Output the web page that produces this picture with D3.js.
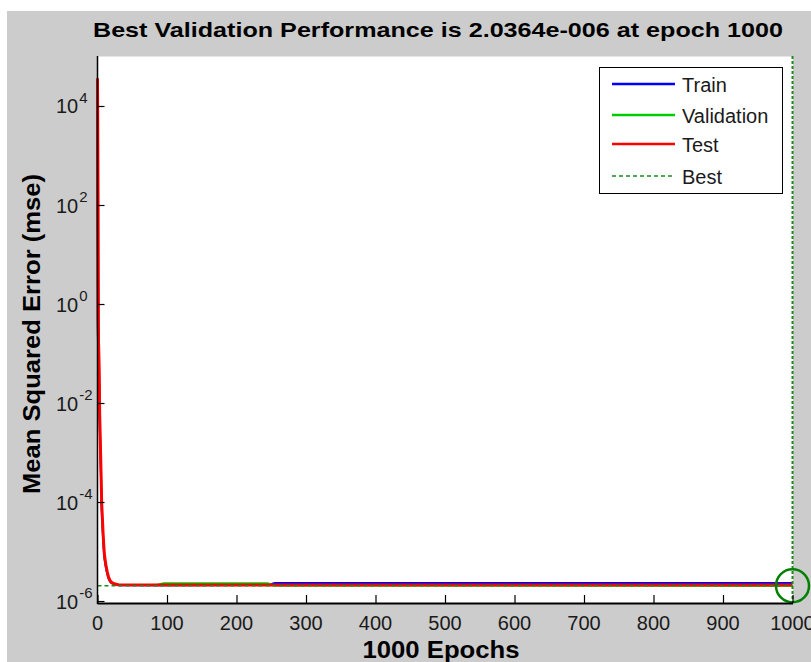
<!DOCTYPE html>
<html>
<head>
<meta charset="utf-8">
<script src="https://cdn.jsdelivr.net/npm/d3@7"></script>
<style>
  html, body { margin: 0; padding: 0; background: #ffffff; }
  svg { display: block; }
</style>
</head>
<body>
<svg id="chart" width="811" height="662"></svg>
<script>
// Training record: mean squared error per epoch (log scale)
const epochs    = [0, 1, 2, 3, 4, 5, 6, 7, 8, 9, 10, 12, 14, 16, 18, 20, 25, 30, 85, 95, 245, 255, 1000];
const trainPerf = [2.2e4, 0.30, 0.040, 5.0e-3, 1.3e-3, 3.2e-4, 7.0e-5, 3.6e-5, 1.9e-5, 1.1e-5, 7.2e-6, 4.8e-6, 3.5e-6, 2.8e-6, 2.45e-6, 2.3e-6, 2.17e-6, 2.08e-6, 2.08e-6, 2.08e-6, 2.1e-6, 2.3e-6, 2.3e-6];
const valPerf   = [3.0e4, 0.38, 0.050, 6.5e-3, 1.6e-3, 4.0e-4, 8.5e-5, 4.3e-5, 2.2e-5, 1.25e-5, 8.0e-6, 5.1e-6, 3.7e-6, 2.9e-6, 2.5e-6, 2.35e-6, 2.18e-6, 2.1e-6, 2.1e-6, 2.28e-6, 2.28e-6, 2.06e-6, 2.0364e-6];
const testPerf  = [3.6e4, 0.43, 0.056, 7.2e-3, 1.8e-3, 4.5e-4, 9.5e-5, 4.8e-5, 2.4e-5, 1.35e-5, 8.5e-6, 5.4e-6, 3.9e-6, 3.0e-6, 2.6e-6, 2.4e-6, 2.2e-6, 2.13e-6, 2.1e-6, 2.1e-6, 2.1e-6, 2.1e-6, 2.1e-6];

const bestEpoch = 1000;
const bestPerf  = 2.0364e-6;

const xTicks = [0, 100, 200, 300, 400, 500, 600, 700, 800, 900, 1000];
const yTickExps = [-6, -4, -2, 0, 2, 4];

const seriesNames  = ["Train", "Validation", "Test", "Best"];
const seriesColors = ["#0000ff", "#00cc00", "#ff0000", "#1a8a1a"];

const titleText  = "Best Validation Performance is 2.0364e-006 at epoch 1000";
const xLabelText = "1000 Epochs";
const yLabelText = "Mean Squared Error  (mse)";

// ---- layout ----
const W = 811, H = 662;
const plot = { left: 97.5, right: 792.5, top: 56, bottom: 603 };

const svg = d3.select("#chart");

// figure background
svg.append("rect").attr("x", 0).attr("y", 0).attr("width", W).attr("height", H).attr("fill", "#ffffff");
svg.append("rect").attr("x", 7).attr("y", 11).attr("width", W - 7).attr("height", H - 11).attr("fill", "#cccccc");

// axes background
svg.append("rect")
  .attr("x", plot.left).attr("y", plot.top)
  .attr("width", plot.right - plot.left + 0.5).attr("height", plot.bottom - plot.top)
  .attr("fill", "#ffffff");
svg.append("line")
  .attr("x1", plot.left).attr("x2", plot.right + 0.5)
  .attr("y1", plot.top + 0.5).attr("y2", plot.top + 0.5)
  .attr("stroke", "#e6e6e6").attr("stroke-width", 1);

const x = d3.scaleLinear().domain([0, 1000]).range([plot.left, plot.right]);
const y = d3.scaleLog().domain([Math.pow(10, -6.04), Math.pow(10, 5.01)]).range([plot.bottom, plot.top]);

// clip for the data lines
svg.append("defs").append("clipPath").attr("id", "plotClip")
  .append("rect")
  .attr("x", plot.left - 2).attr("y", plot.top)
  .attr("width", plot.right - plot.left + 4).attr("height", plot.bottom - plot.top);

const g = svg.append("g").attr("clip-path", "url(#plotClip)");

const line = d3.line().x(d => x(d[0])).y(d => y(d[1]));

const series = [
  { values: trainPerf, color: seriesColors[0], width: 2 },
  { values: valPerf,   color: seriesColors[1], width: 2 },
  { values: testPerf,  color: seriesColors[2], width: 3 }
];

series.forEach(s => {
  g.append("path")
    .datum(epochs.map((e, i) => [e, s.values[i]]))
    .attr("fill", "none")
    .attr("stroke", s.color)
    .attr("stroke-width", s.width)
    .attr("stroke-linejoin", "miter")
    .attr("d", line);
});

// best-epoch markers
g.append("line")
  .attr("x1", x(0)).attr("x2", x(1000))
  .attr("y1", y(bestPerf)).attr("y2", y(bestPerf))
  .attr("stroke", seriesColors[3]).attr("stroke-width", 1.5)
  .attr("stroke-dasharray", "4,3");
svg.append("line")
  .attr("x1", x(bestEpoch)).attr("x2", x(bestEpoch))
  .attr("y1", plot.top).attr("y2", plot.bottom)
  .attr("stroke", seriesColors[3]).attr("stroke-width", 2)
  .attr("stroke-dasharray", "3,2");
svg.append("circle")
  .attr("cx", x(bestEpoch)).attr("cy", y(bestPerf)).attr("r", 16.5)
  .attr("fill", "none").attr("stroke", "#008000").attr("stroke-width", 2.5);

// axes
const xAxis = d3.axisBottom(x).tickValues(xTicks).tickSize(-8).tickFormat("");
svg.append("g").attr("transform", `translate(0,${plot.bottom})`).call(xAxis)
  .call(a => a.select(".domain").attr("d", `M${plot.left},0.5H${plot.right + 0.5}`).attr("stroke", "#000").attr("stroke-width", 2))
  .call(a => a.selectAll(".tick line").attr("stroke", "#000").attr("stroke-width", 1.2));

const yAxis = d3.axisLeft(y).tickValues(yTickExps.map(e => Math.pow(10, e))).tickSize(-7).tickFormat("");
svg.append("g").attr("transform", `translate(${plot.left},0)`).call(yAxis)
  .call(a => a.select(".domain").attr("d", `M0,${plot.top}V${plot.bottom + 1}`).attr("stroke", "#000").attr("stroke-width", 1.5))
  .call(a => a.selectAll(".tick line").attr("stroke", "#000").attr("stroke-width", 1.2));

// the test curve hugs the y axis in its first epochs, so it stays on top of it
g.append("path")
  .datum(epochs.slice(0, 4).map((e, i) => [e, testPerf[i]]))
  .attr("fill", "none").attr("stroke", seriesColors[2]).attr("stroke-width", 3)
  .attr("d", line);

// tick labels
const tickFont = "'Liberation Sans', Arial, sans-serif";
svg.append("g").selectAll("text").data(xTicks).join("text")
  .attr("x", d => x(d)).attr("y", 630)
  .attr("text-anchor", "middle")
  .attr("font-family", tickFont).attr("font-size", 20).attr("fill", "#1a1a1a")
  .text(d => d);

const yLab = svg.append("g").selectAll("text").data(yTickExps).join("text")
  .attr("x", 56).attr("y", d => y(Math.pow(10, d)) + 7.5)
  .attr("font-family", tickFont).attr("fill", "#1a1a1a");
yLab.append("tspan").attr("font-size", 20).text("10");
yLab.append("tspan").attr("font-size", 15).attr("dx", 1).attr("dy", -10.5).text(d => d);

// title and axis labels
const boldFont = "'Liberation Sans', Arial, sans-serif";
svg.append("text")
  .attr("x", 438).attr("y", 37).attr("text-anchor", "middle")
  .attr("font-family", boldFont).attr("font-weight", "bold").attr("font-size", 21)
  .attr("textLength", 690).attr("lengthAdjust", "spacingAndGlyphs")
  .attr("fill", "#000").text(titleText);

svg.append("text")
  .attr("x", 441).attr("y", 658).attr("text-anchor", "middle")
  .attr("font-family", boldFont).attr("font-weight", "bold").attr("font-size", 23)
  .attr("textLength", 157).attr("lengthAdjust", "spacingAndGlyphs")
  .attr("fill", "#000").text(xLabelText);

svg.append("text")
  .attr("transform", "translate(40,334) rotate(-90)")
  .attr("text-anchor", "middle")
  .attr("font-family", boldFont).attr("font-weight", "bold").attr("font-size", 23)
  .attr("textLength", 320).attr("lengthAdjust", "spacingAndGlyphs")
  .attr("fill", "#000").text(yLabelText);

// legend
const leg = svg.append("g");
leg.append("rect")
  .attr("x", 599.5).attr("y", 67.5).attr("width", 183).attr("height", 126)
  .attr("fill", "#ffffff").attr("stroke", "#000").attr("stroke-width", 1);
const legY = [84, 115, 144, 176];
seriesNames.forEach((name, i) => {
  const ln = leg.append("line")
    .attr("x1", 612).attr("x2", 675).attr("y1", legY[i]).attr("y2", legY[i])
    .attr("stroke", seriesColors[i]).attr("stroke-width", i === 3 ? 1.5 : 2.5);
  if (i === 3) ln.attr("stroke-dasharray", "4,3");
  leg.append("text")
    .attr("x", 682).attr("y", legY[i] + 8)
    .attr("font-family", tickFont).attr("font-size", 20).attr("fill", "#1a1a1a")
    .text(name);
});
</script>
</body>
</html>
